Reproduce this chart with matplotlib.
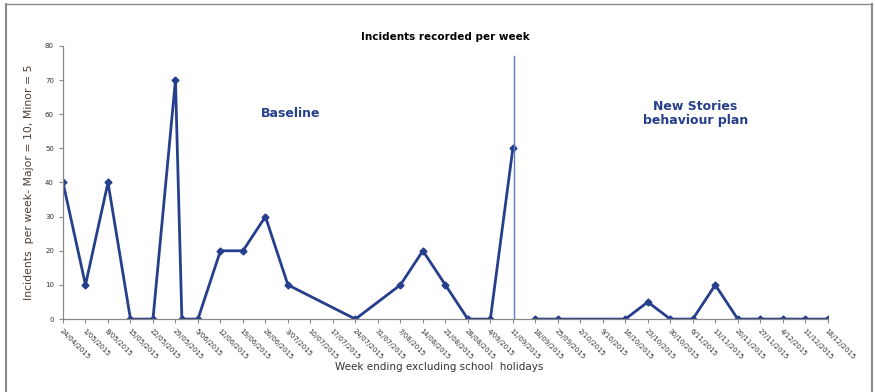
import numpy as np
import pandas as pd
import matplotlib
matplotlib.use("Agg")
import matplotlib.pyplot as plt
import matplotlib.dates as mdates
from matplotlib.lines import Line2D

# Baseline weeks
base_dates = ['2015-04-24', '2015-05-01', '2015-05-08', '2015-05-15', '2015-05-22',
              '2015-05-29', '2015-05-31', '2015-06-05', '2015-06-12', '2015-06-19',
              '2015-06-26', '2015-07-03', '2015-07-24', '2015-08-07', '2015-08-14',
              '2015-08-21', '2015-08-28', '2015-09-04', '2015-09-11']
base_values = [40, 10, 40, 0, 0, 70, 0, 0, 20, 20, 30, 10, 0, 10, 20, 10, 0, 0, 50]

# After the new behaviour plan
plan_dates = ['2015-09-18', '2015-09-25', '2015-10-16', '2015-10-23', '2015-10-30',
              '2015-11-06', '2015-11-13', '2015-11-20', '2015-11-27', '2015-12-04',
              '2015-12-11', '2015-12-18']
plan_values = [0, 0, 0, 5, 0, 0, 10, 0, 0, 0, 0, 0]

plan_start = '2015-09-11 12:00'

week_labels = ['24/04/2015', '1/05/2015', '8/05/2015', '15/05/2015', '22/05/2015',
               '29/05/2015', '5/06/2015', '12/06/2015', '19/06/2015', '26/06/2015',
               '3/07/2015', '10/07/2015', '17/07/2015', '24/07/2015', '31/07/2015',
               '7/08/2015', '14/08/2015', '21/08/2015', '28/08/2015', '4/09/2015',
               '11/09/2015', '18/09/2015', '25/09/2015', '2/10/2015', '9/10/2015',
               '16/10/2015', '23/10/2015', '30/10/2015', '6/11/2015', '13/11/2015',
               '20/11/2015', '27/11/2015', '4/12/2015', '11/12/2015', '18/12/2015']

navy = '#263f8c'

fig = plt.figure(figsize=(8.75, 3.92), dpi=100)
ax = fig.add_axes([0.072, 0.186, 0.874, 0.697])

xb = mdates.date2num(pd.to_datetime(base_dates))
xp = mdates.date2num(pd.to_datetime(plan_dates))
ax.plot(xb, base_values, color=navy, lw=2, marker='D', ms=3.5)
ax.plot(xp, plan_values, color=navy, lw=2, marker='D', ms=3.5)

xv = mdates.date2num(pd.Timestamp(plan_start))
ax.plot([xv, xv], [0, 77], color='#5b7bc4', lw=1)

week_x = mdates.date2num(pd.to_datetime(week_labels, format='%d/%m/%Y'))
ax.set_xlim(week_x[0], week_x[-1])
ax.set_ylim(0, 80)
ax.set_xticks(week_x)
ax.set_xticklabels(week_labels, rotation=-45, ha='left', va='top',
                   rotation_mode='anchor', fontsize=5, color='#333333')
ax.set_yticks(np.arange(0, 81, 10))
ax.tick_params(axis='y', labelsize=5, length=3, color='#888888', labelcolor='#333333')
ax.tick_params(axis='x', length=3, color='#888888')

for s in ['top', 'right']:
    ax.spines[s].set_visible(False)
for s in ['left', 'bottom']:
    ax.spines[s].set_color('#888888')
    ax.spines[s].set_linewidth(0.9)

ax.set_title('Incidents recorded per week', fontsize=7.5, fontweight='bold', pad=4)
ax.set_ylabel('Incidents  per week- Major = 10, Minor = 5', fontsize=7.8,
              color='#4a3f36', labelpad=8)
fig.text(0.502, 0.063, 'Week ending excluding school  holidays', fontsize=7.5,
         color='#333333', ha='center', va='center')

ax.text(0.298, 0.753, 'Baseline', transform=ax.transAxes, fontsize=9,
        fontweight='bold', color=navy, ha='center', va='center')
ax.text(0.827, 0.753, 'New Stories\nbehaviour plan', transform=ax.transAxes,
        fontsize=9, fontweight='bold', color=navy, ha='center', va='center',
        linespacing=1.15)

# grey frame round the chart
frame_col = '#8a8a8a'
fig.add_artist(Line2D([0.007, 0.007], [0.0, 0.99], color=frame_col, lw=1.5))
fig.add_artist(Line2D([0.997, 0.997], [0.0, 0.99], color=frame_col, lw=1.5))
fig.add_artist(Line2D([0.007, 0.997], [0.99, 0.99], color=frame_col, lw=1.0))

fig.savefig('out.png', dpi=100)
